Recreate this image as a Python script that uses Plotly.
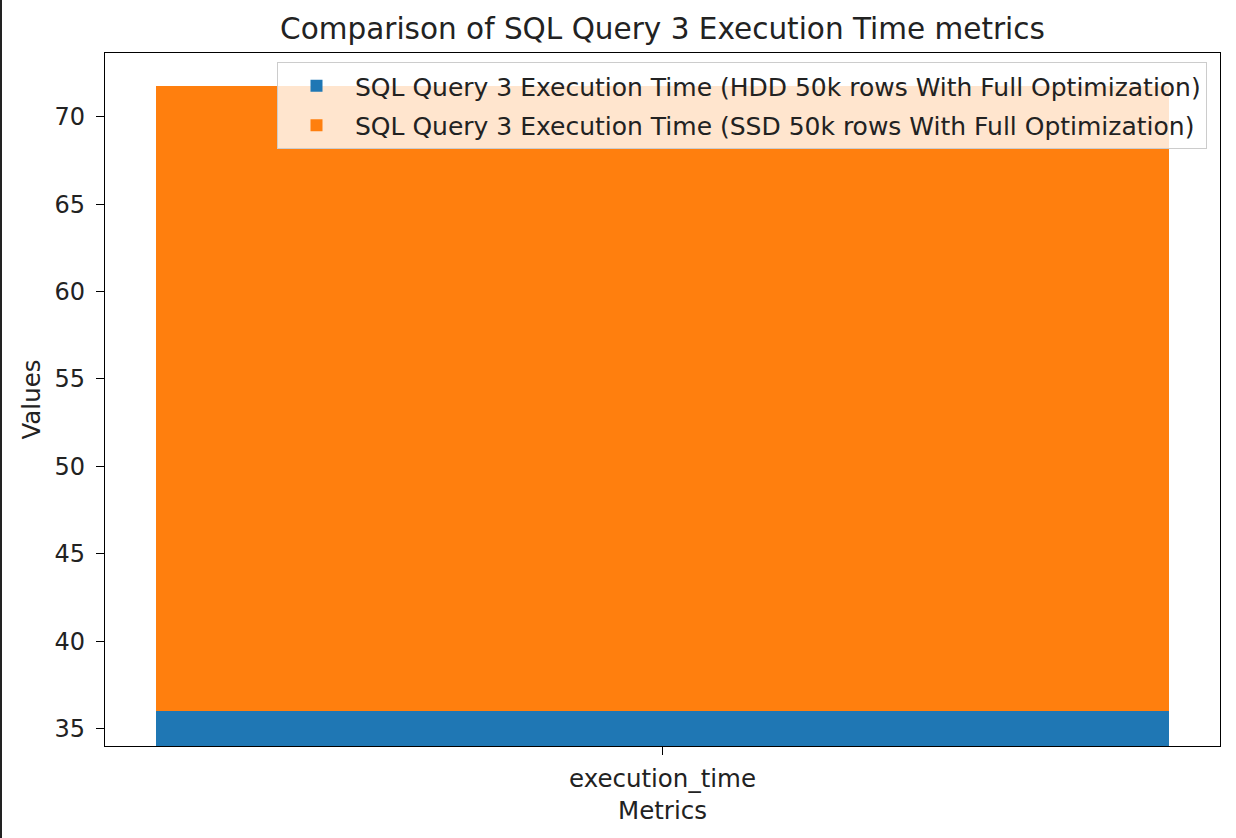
import plotly.graph_objects as go

categories = ["execution_time"]
hdd_values = [36.0]
ssd_values = [35.77]
series_names = [
    "SQL Query 3 Execution Time (HDD 50k rows With Full Optimization)",
    "SQL Query 3 Execution Time (SSD 50k rows With Full Optimization)",
]
y_ticks = [35, 40, 45, 50, 55, 60, 65, 70]

W, H = 1236, 838
L, R, T, B = 105, 16, 53, 92
pw = W - L - R
ph = H - T - B

fig = go.Figure()
fig.add_trace(go.Bar(x=categories, y=hdd_values, name=series_names[0],
                     marker=dict(color="#1f77b4", line=dict(width=0)),
                     width=0.8, legendgroup="a"))
fig.add_trace(go.Bar(x=categories, y=ssd_values, name=series_names[1],
                     marker=dict(color="#ff7f0e", line=dict(width=0)),
                     width=0.8, legendgroup="b"))

font = "DejaVu Sans, Verdana, sans-serif"
fig.update_layout(
    width=W, height=H,
    barmode="stack",
    margin=dict(l=L, r=R, t=T, b=B),
    paper_bgcolor="white", plot_bgcolor="white",
    font=dict(family=font, size=24, color="#222222"),
    title=dict(text="Comparison of SQL Query 3 Execution Time metrics",
               x=(L + pw / 2) / W, xanchor="center", y=1 - 29 / H, yanchor="middle",
               font=dict(size=29.5, color="#222222")),
    showlegend=True,
    legend=dict(x=(1207 - L) / pw, xanchor="right", y=(H - B - 62) / ph, yanchor="top",
                bgcolor="rgba(255,255,255,0.8)", bordercolor="#cccccc", borderwidth=1,
                font=dict(size=25, color="#222222"), traceorder="grouped",
                tracegroupgap=4, itemwidth=67),
    xaxis=dict(type="category", range=[-0.44, 0.44], showline=True, mirror=True,
               linecolor="black", linewidth=1.2, ticks="outside", ticklen=8,
               tickcolor="black", showgrid=False, zeroline=False,
               ticklabelstandoff=2,
               title=dict(text="Metrics", standoff=10, font=dict(size=24.5)),
               tickfont=dict(size=24.5)),
    yaxis=dict(range=[34.0, 73.65], tickvals=y_ticks, showline=True, mirror=True,
               linecolor="black", linewidth=1.2, ticks="outside", ticklen=8,
               tickcolor="black", showgrid=False, zeroline=False,
               ticklabelstandoff=6,
               title=dict(text="Values", standoff=6, font=dict(size=24.5)),
               tickfont=dict(size=24)),
    shapes=[dict(type="rect", xref="paper", yref="paper",
                 x0=(0 - L) / pw, x1=(2 - L) / pw,
                 y0=-B / ph, y1=1 + T / ph,
                 fillcolor="#222222", line=dict(width=0), layer="above")],
)

fig.write_html("out.html", config={"displayModeBar": False},
               post_script="document.body.style.margin='0';document.body.style.padding='0';")
